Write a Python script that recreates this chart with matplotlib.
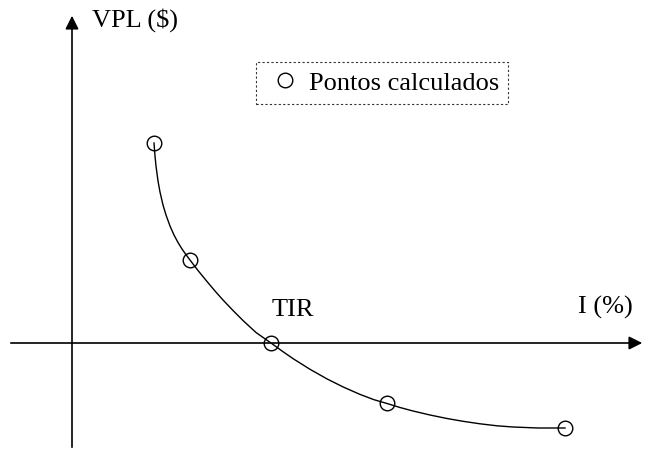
import numpy as np
import matplotlib.pyplot as plt

# calculated points (I, VPL) in chart units, origin at axes crossing
taxa = [82, 118, 199, 315, 493]
vpl = [200, 83, 0, -60, -85]

# smooth curve
curva_x = [82, 83, 84, 86, 88, 91, 94, 98, 102, 106, 110, 114, 118, 126, 135, 143,
           151, 161, 171, 184, 199, 210, 221, 238, 255, 271, 288, 302, 315, 328,
           341, 358, 375, 391, 408, 425, 441, 466, 493]
curva_y = [200, 187, 177, 162, 151, 138, 128, 117, 108, 100.5, 94, 88.3, 83, 72.5, 61.5, 52,
           43, 32.5, 22.5, 10.5, 0, -8, -15.6, -26.3, -35.9, -43.9, -51.4, -56.7, -60.5, -64.5,
           -68, -72, -75.5, -78.3, -80.8, -82.8, -84, -85, -85]

plt.rcParams['font.family'] = ['Liberation Serif', 'DejaVu Serif']

fig = plt.figure(figsize=(6.45, 4.57), dpi=100)
ax = fig.add_axes([0, 0, 1, 1])
ax.set_xlim(-72, 573)
ax.set_ylim(-114, 343)
ax.axis('off')

# axes with arrow heads
ax.annotate('', xy=(573, 0), xytext=(-64, 0),
            arrowprops=dict(arrowstyle='-|>', color='black', lw=1.2, mutation_scale=20))
ax.annotate('', xy=(0, 330), xytext=(0, -107),
            arrowprops=dict(arrowstyle='-|>', color='black', lw=1.2, mutation_scale=20))

ax.plot(curva_x, curva_y, color='black', lw=1)
ax.plot(taxa, vpl, 'o', mfc='none', mec='black', ms=10.5, mew=1, label='Pontos calculados')

ax.text(20, 323, 'VPL ($)', fontsize=19, va='center', ha='left')
ax.text(506, 36, 'I (%)', fontsize=19, va='center', ha='left')
ax.text(200, 22, 'TIR', fontsize=19, va='bottom', ha='left')

leg = ax.legend(loc='upper left', bbox_to_anchor=(256 / 645, 1 - 62 / 457), fontsize=19,
                frameon=True, fancybox=False, borderpad=0.35, handletextpad=0.15,
                handlelength=1.5, borderaxespad=0)
leg.get_frame().set_linestyle((0, (2, 2)))
leg.get_frame().set_edgecolor('black')
leg.get_frame().set_linewidth(0.8)

fig.savefig('out.png', dpi=100)
